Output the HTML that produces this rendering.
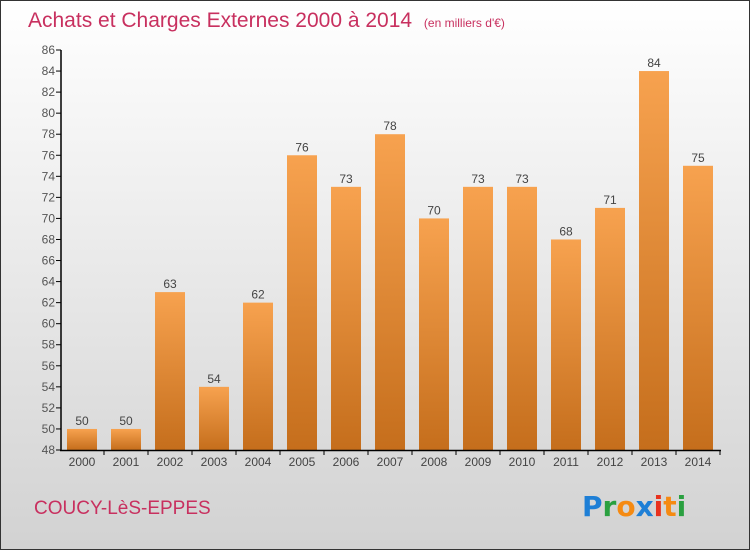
<!DOCTYPE html>
<html><head><meta charset="utf-8"><style>
body{margin:0}
#c{width:750px;height:550px;position:relative;box-sizing:border-box;border:1px solid #333;background:linear-gradient(#ffffff,#d2d2d2);font-family:"Liberation Sans",sans-serif;overflow:hidden}
</style></head><body>
<div id="c">
<svg width="750" height="550" style="position:absolute;left:-1px;top:-1px" id="svg">
<defs><linearGradient id="bg" x1="0" y1="0" x2="0" y2="1"><stop offset="0" stop-color="#f7a24f"/><stop offset="1" stop-color="#c56e1c"/></linearGradient></defs>
<text x="28" y="27" font-size="21" fill="#c8305f">Achats et Charges Externes 2000 à 2014 <tspan font-size="12" dx="6">(en milliers d'€)</tspan></text>
<text x="34" y="514" font-size="19" fill="#c8305f">COUCY-LèS-EPPES</text>
<g font-size="28" font-weight="bold" font-family="'DejaVu Sans',sans-serif">
<text x="582" y="516"><tspan fill="#1e7fd6">P</tspan><tspan fill="#2aa040">r</tspan><tspan fill="#f58a12">o</tspan><tspan fill="#1e7fd6">x</tspan><tspan fill="#e8321e">i</tspan><tspan fill="#f58a12">t</tspan><tspan fill="#2aa040">i</tspan></text></g>
<g id="plot"></g>
</svg></div>
<script>
const years=["2000","2001","2002","2003","2004","2005","2006","2007","2008","2009","2010","2011","2012","2013","2014"];
const values=[50,50,63,54,62,76,73,78,70,73,73,68,71,84,75];
const yTicks=[48,50,52,54,56,58,60,62,64,66,68,70,72,74,76,78,80,82,84,86];
const NS="http://www.w3.org/2000/svg";
const g=document.getElementById('plot');
const y=v=>450-(v-48)*400/38;
const x=i=>82+i*44;
function mk(t,a){const e=document.createElementNS(NS,t);for(const k in a)e.setAttribute(k,a[k]);g.appendChild(e);return e;}
yTicks.forEach(t=>{
 const l=mk('line',{x1:56,x2:61,y1:y(t),y2:y(t),stroke:'#000'});
 
 
 const tx=mk('text',{x:55,y:y(t)+4,'font-size':12,'text-anchor':'end',fill:'#555'});tx.textContent=t;
 
 
});
values.forEach((v,i)=>{
 const r=mk('rect',{x:x(i)-15,y:y(v),width:30,height:450-y(v),fill:'url(#bg)'});
 
 
 const t=mk('text',{x:x(i),y:y(v)-4,'font-size':12,'text-anchor':'middle',fill:'#444'});t.textContent=v;
 
 
 const k=mk('line',{x1:x(i)+22,x2:x(i)+22,y1:450,y2:455,stroke:'#000'});
 
 
 const xl=mk('text',{x:x(i),y:466,'font-size':12,'text-anchor':'middle',fill:'#444'});xl.textContent=years[i];
 
 
});
const ya=mk('line',{x1:61,x2:61,y1:50,y2:451,stroke:'#000','stroke-width':1.5});


const xa=mk('line',{x1:60,x2:721,y1:450.5,y2:450.5,stroke:'#000','stroke-width':1.5});


</script></body></html>
